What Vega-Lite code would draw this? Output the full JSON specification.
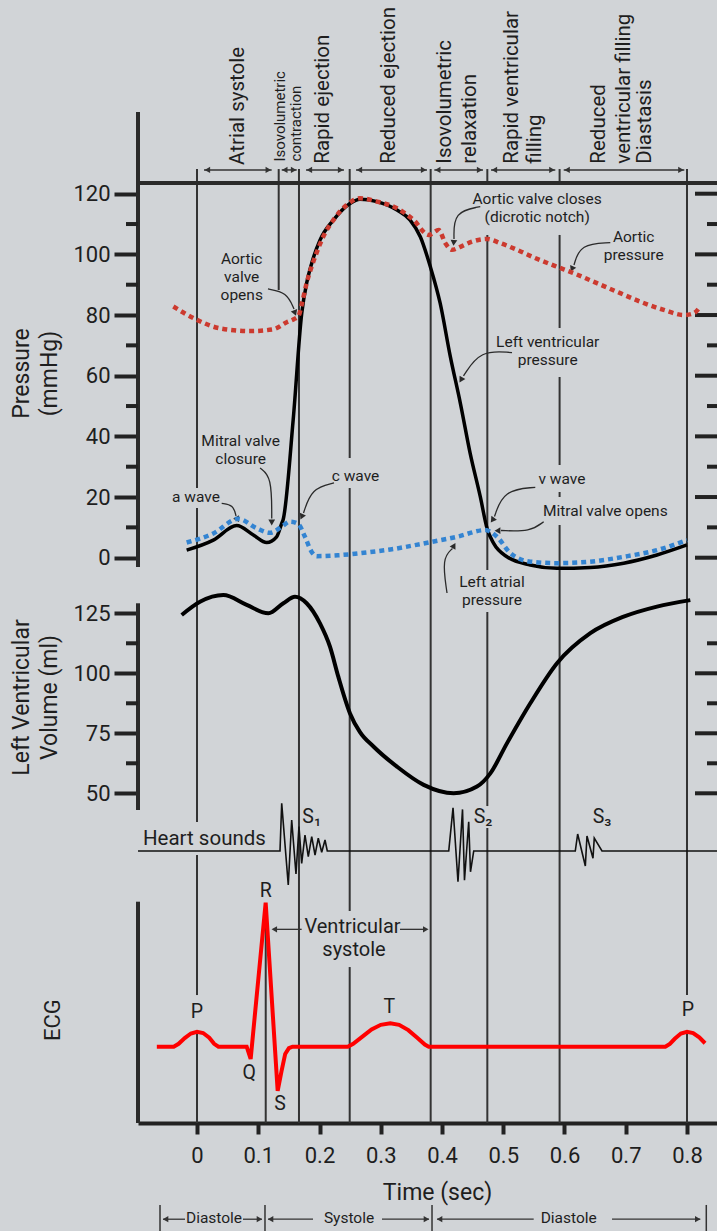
{
  "$schema": "https://vega.github.io/schema/vega-lite/v6.json",
  "width": 579,
  "height": 1123,
  "autosize": "none",
  "padding": {"left": 138, "top": 0, "right": 0, "bottom": 108},
  "background": "#d1d4d7",
  "config": {"view": {"stroke": null}, "font": "Roboto", "text": {"font": "Roboto", "color": "#1e1e1e"}},
  "datasets": {
    "aortic": [
      {"t": -0.0386, "p": 82.8}, {"t": 0, "p": 78.4}, {"t": 0.0376, "p": 75.6}, {"t": 0.0865, "p": 74.7},
      {"t": 0.1246, "p": 75.3}, {"t": 0.1464, "p": 77.6}, {"t": 0.158, "p": 78.6}, {"t": 0.166, "p": 79.8},
      {"t": 0.171, "p": 83.5}, {"t": 0.179, "p": 90.5}, {"t": 0.187, "p": 95.9}, {"t": 0.195, "p": 100.4},
      {"t": 0.206, "p": 105.8}, {"t": 0.2226, "p": 111.3}, {"t": 0.2444, "p": 116.3}, {"t": 0.266, "p": 118.5},
      {"t": 0.294, "p": 117.4}, {"t": 0.3265, "p": 115.2}, {"t": 0.3538, "p": 111.3}, {"t": 0.3782, "p": 106.4},
      {"t": 0.3946, "p": 108.0}, {"t": 0.4054, "p": 103.7}, {"t": 0.4163, "p": 101.5}, {"t": 0.43, "p": 102.5},
      {"t": 0.449, "p": 104.2}, {"t": 0.4735, "p": 105.1}, {"t": 0.4953, "p": 103.7}, {"t": 0.5224, "p": 101.5},
      {"t": 0.5497, "p": 99.0}, {"t": 0.5878, "p": 95.9}, {"t": 0.615, "p": 93.8}, {"t": 0.653, "p": 90.5},
      {"t": 0.6911, "p": 87.2}, {"t": 0.7238, "p": 84.4}, {"t": 0.762, "p": 81.7}, {"t": 0.7946, "p": 80.0},
      {"t": 0.811, "p": 80.6}, {"t": 0.8217, "p": 82.8}
    ],
    "lv": [
      {"t": -0.0169, "p": 2.5}, {"t": 0.0266, "p": 5.8}, {"t": 0.0648, "p": 10.6}, {"t": 0.092, "p": 7.5},
      {"t": 0.1138, "p": 5.0}, {"t": 0.13, "p": 6.9}, {"t": 0.1383, "p": 11.3}, {"t": 0.1407, "p": 12.6},
      {"t": 0.157, "p": 45.4}, {"t": 0.171, "p": 80.6}, {"t": 0.179, "p": 90.5}, {"t": 0.1873, "p": 97.1},
      {"t": 0.2008, "p": 104.7}, {"t": 0.2226, "p": 111.3}, {"t": 0.2498, "p": 116.8}, {"t": 0.2661, "p": 118.2},
      {"t": 0.2939, "p": 117.4}, {"t": 0.3265, "p": 114.6}, {"t": 0.348, "p": 111.3}, {"t": 0.3646, "p": 105.8},
      {"t": 0.381, "p": 95.9}, {"t": 0.397, "p": 83.9}, {"t": 0.4136, "p": 66.3}, {"t": 0.43, "p": 50.9},
      {"t": 0.446, "p": 34.4}, {"t": 0.4625, "p": 20.1}, {"t": 0.4735, "p": 9.7}, {"t": 0.4844, "p": 4.7},
      {"t": 0.5061, "p": 0.3}, {"t": 0.5442, "p": -2.4}, {"t": 0.5878, "p": -3.5}, {"t": 0.6422, "p": -3.2},
      {"t": 0.6966, "p": -1.8}, {"t": 0.751, "p": 0.9}, {"t": 0.8, "p": 4.2}
    ],
    "la": [
      {"t": -0.0169, "p": 5.0}, {"t": 0.0266, "p": 8.0}, {"t": 0.0674, "p": 12.8}, {"t": 0.0975, "p": 9.7},
      {"t": 0.119, "p": 8.2}, {"t": 0.1383, "p": 10.2}, {"t": 0.1518, "p": 11.9}, {"t": 0.1654, "p": 11.1},
      {"t": 0.1763, "p": 6.9}, {"t": 0.187, "p": 2.0}, {"t": 0.1955, "p": 0.5}, {"t": 0.23, "p": 0.8},
      {"t": 0.28, "p": 1.8}, {"t": 0.3156, "p": 2.7}, {"t": 0.37, "p": 4.7}, {"t": 0.4245, "p": 6.9},
      {"t": 0.4707, "p": 9.1}, {"t": 0.4898, "p": 6.9}, {"t": 0.5116, "p": 1.5}, {"t": 0.5442, "p": -1.3},
      {"t": 0.5878, "p": -1.8}, {"t": 0.6422, "p": -1.3}, {"t": 0.6966, "p": 0.3}, {"t": 0.751, "p": 2.5},
      {"t": 0.8, "p": 5.8}
    ],
    "vol": [
      {"t": -0.025, "v": 124.3}, {"t": 0.0049, "v": 129.8}, {"t": 0.043, "v": 132.6}, {"t": 0.0811, "v": 128.5},
      {"t": 0.1165, "v": 125.0}, {"t": 0.141, "v": 129.2}, {"t": 0.16, "v": 131.9}, {"t": 0.179, "v": 129.2},
      {"t": 0.2008, "v": 120.8}, {"t": 0.2171, "v": 111.1}, {"t": 0.2307, "v": 98.6}, {"t": 0.2498, "v": 83.3},
      {"t": 0.2661, "v": 75.5}, {"t": 0.2885, "v": 69.4}, {"t": 0.3265, "v": 61.1}, {"t": 0.3701, "v": 53.5},
      {"t": 0.419, "v": 50.0}, {"t": 0.4571, "v": 52.8}, {"t": 0.4789, "v": 58.3}, {"t": 0.506, "v": 70.8},
      {"t": 0.5442, "v": 87.5}, {"t": 0.5878, "v": 104.2}, {"t": 0.6422, "v": 116.7}, {"t": 0.6966, "v": 123.6},
      {"t": 0.751, "v": 127.8}, {"t": 0.8054, "v": 130.5}
    ],
    "hs": [
      {"t": -0.0963, "a": 0}, {"t": 0.1355, "a": 0}, {"t": 0.1383, "a": 1.19}, {"t": 0.149, "a": -0.85},
      {"t": 0.1546, "a": 0.775}, {"t": 0.1616, "a": -0.575}, {"t": 0.1665, "a": 0.61}, {"t": 0.1709, "a": -0.31},
      {"t": 0.1763, "a": 0.4}, {"t": 0.1817, "a": -0.14}, {"t": 0.1873, "a": 0.36}, {"t": 0.1927, "a": -0.1},
      {"t": 0.198, "a": 0.32}, {"t": 0.2036, "a": -0.03}, {"t": 0.209, "a": 0.275}, {"t": 0.2127, "a": 0},
      {"t": 0.411, "a": 0}, {"t": 0.418, "a": 1.08}, {"t": 0.4261, "a": -0.77}, {"t": 0.4335, "a": 1.04},
      {"t": 0.4367, "a": -0.73}, {"t": 0.4436, "a": 0.73}, {"t": 0.4465, "a": -0.52}, {"t": 0.4518, "a": 0},
      {"t": 0.6176, "a": 0}, {"t": 0.6215, "a": 0.425}, {"t": 0.634, "a": -0.375}, {"t": 0.6367, "a": 0.375},
      {"t": 0.6465, "a": -0.18}, {"t": 0.6486, "a": 0.32}, {"t": 0.6612, "a": 0}, {"t": 0.849, "a": 0}
    ],
    "ecg": [
      {"t": -0.0656, "e": 0}, {"t": -0.038, "e": 0}, {"t": -0.03, "e": 0.02}, {"t": -0.02, "e": 0.06},
      {"t": -0.01, "e": 0.092}, {"t": 0, "e": 0.104}, {"t": 0.01, "e": 0.095}, {"t": 0.02, "e": 0.062},
      {"t": 0.028, "e": 0.02}, {"t": 0.035, "e": 0}, {"t": 0.0811, "e": 0}, {"t": 0.0876, "e": -0.085},
      {"t": 0.1121, "e": 1.0}, {"t": 0.1317, "e": -0.306}, {"t": 0.138, "e": -0.17}, {"t": 0.144, "e": -0.05},
      {"t": 0.15, "e": -0.01}, {"t": 0.156, "e": 0}, {"t": 0.2462, "e": 0}, {"t": 0.255, "e": 0.02},
      {"t": 0.27, "e": 0.07}, {"t": 0.285, "e": 0.12}, {"t": 0.3, "e": 0.152}, {"t": 0.3156, "e": 0.1625},
      {"t": 0.33, "e": 0.152}, {"t": 0.345, "e": 0.115}, {"t": 0.36, "e": 0.06}, {"t": 0.372, "e": 0.015},
      {"t": 0.3783, "e": 0}, {"t": 0.7646, "e": 0}, {"t": 0.772, "e": 0.02}, {"t": 0.78, "e": 0.055},
      {"t": 0.79, "e": 0.092}, {"t": 0.8, "e": 0.104}, {"t": 0.81, "e": 0.095}, {"t": 0.82, "e": 0.065},
      {"t": 0.8295, "e": 0.024}
    ],
    "vlines": [
      {"t": 0, "p": 128.12, "p2": 22.98}, {"t": 0, "p": 16.39, "p2": -87.14}, {"t": 0, "p": -98.02, "p2": -144.18}, {"t": 0, "p": -155.72, "p2": -186.38},
      {"t": 0.1334, "p": 128.12, "p2": 88.26},
      {"t": 0.1665, "p": 128.12, "p2": -186.38},
      {"t": 0.2493, "p": 128.12, "p2": 32.87}, {"t": 0.2493, "p": 22.98, "p2": -116.49}, {"t": 0.2493, "p": -134.95, "p2": -186.38},
      {"t": 0.3815, "p": 128.12, "p2": -186.38},
      {"t": 0.474, "p": 128.12, "p2": 123.54}, {"t": 0.474, "p": 106.4, "p2": -4.06}, {"t": 0.474, "p": -17.9, "p2": -81.87}, {"t": 0.474, "p": -89.12, "p2": -186.38},
      {"t": 0.592, "p": 128.12, "p2": 123.54}, {"t": 0.592, "p": 106.4, "p2": 75.73}, {"t": 0.592, "p": 59.58, "p2": 30.56}, {"t": 0.592, "p": 21.66, "p2": 20.01}, {"t": 0.592, "p": 10.78, "p2": -186.38},
      {"t": 0.8, "p": 128.12, "p2": -144.18}, {"t": 0.8, "p": -155.72, "p2": -186.38},
      {"t": 0.1122, "p": -114.57, "p2": -186.38}
    ],
    "ptop": [{"t": -0.096327, "t2": 0.84898, "p": 123.54}],
    "pframe": [{"t": -0.096327, "p": 146.95, "p2": -3.07}],
    "pticks": [
      {"t": -0.11592, "t2": -0.096327, "p": 10}, {"t": -0.11592, "t2": -0.096327, "p": 30}, {"t": -0.11592, "t2": -0.096327, "p": 50},
      {"t": -0.11592, "t2": -0.096327, "p": 70}, {"t": -0.11592, "t2": -0.096327, "p": 90}, {"t": -0.11592, "t2": -0.096327, "p": 110},
      {"t": 0.81306, "t2": 0.84898, "p": 0}, {"t": 0.81306, "t2": 0.84898, "p": 20}, {"t": 0.81306, "t2": 0.84898, "p": 40},
      {"t": 0.81306, "t2": 0.84898, "p": 60}, {"t": 0.81306, "t2": 0.84898, "p": 80}, {"t": 0.81306, "t2": 0.84898, "p": 100},
      {"t": 0.81306, "t2": 0.84898, "p": 120},
      {"t": 0.83265, "t2": 0.84898, "p": 10}, {"t": 0.83265, "t2": 0.84898, "p": 30}, {"t": 0.83265, "t2": 0.84898, "p": 50},
      {"t": 0.83265, "t2": 0.84898, "p": 70}, {"t": 0.83265, "t2": 0.84898, "p": 90}, {"t": 0.83265, "t2": 0.84898, "p": 110}
    ],
    "phaseShafts": [
      {"t": 0.01143, "t2": 0.12196, "p": 127.83}, {"t": 0.13829, "t2": 0.16278, "p": 127.83}, {"t": 0.17796, "t2": 0.24, "p": 127.83},
      {"t": 0.25959, "t2": 0.37551, "p": 127.83}, {"t": 0.38743, "t2": 0.46694, "p": 127.83}, {"t": 0.48, "t2": 0.585, "p": 127.83},
      {"t": 0.5987, "t2": 0.7956, "p": 127.83}
    ],
    "phaseHeads": [
      {"t": 0.01693, "p": 127.83, "shape": "triangle-left"}, {"t": 0.11646, "p": 127.83, "shape": "triangle-right"},
      {"t": 0.14329, "p": 127.83, "shape": "triangle-left"}, {"t": 0.15778, "p": 127.83, "shape": "triangle-right"},
      {"t": 0.18346, "p": 127.83, "shape": "triangle-left"}, {"t": 0.2345, "p": 127.83, "shape": "triangle-right"},
      {"t": 0.26509, "p": 127.83, "shape": "triangle-left"}, {"t": 0.37001, "p": 127.83, "shape": "triangle-right"},
      {"t": 0.39293, "p": 127.83, "shape": "triangle-left"}, {"t": 0.46144, "p": 127.83, "shape": "triangle-right"},
      {"t": 0.4855, "p": 127.83, "shape": "triangle-left"}, {"t": 0.5795, "p": 127.83, "shape": "triangle-right"},
      {"t": 0.6042, "p": 127.83, "shape": "triangle-left"}, {"t": 0.7901, "p": 127.83, "shape": "triangle-right"}
    ],
    "phaseLabels": [
      {"t": 0.0674, "p": 129.5, "label": "Atrial systole"},
      {"t": 0.2057, "p": 129.9, "label": "Rapid ejection"},
      {"t": 0.313, "p": 129.9, "label": "Reduced ejection"},
      {"t": 0.4054, "p": 129.9, "label": "Isovolumetric"},
      {"t": 0.4462, "p": 129.9, "label": "relaxation"},
      {"t": 0.5143, "p": 129.9, "label": "Rapid ventricular"},
      {"t": 0.5518, "p": 129.9, "label": "filling"},
      {"t": 0.6558, "p": 129.9, "label": "Reduced"},
      {"t": 0.6967, "p": 129.9, "label": "ventricular filling"},
      {"t": 0.7319, "p": 129.9, "label": "Diastasis"}
    ],
    "phaseSmall": [
      {"t": 0.1355, "p": 130.6, "label": "Isovolumetric"},
      {"t": 0.1611, "p": 130.6, "label": "contraction"}
    ],
    "arrows": [
      {"id": "a1", "k": 0, "t": 0.1159, "p": 88.59}, {"id": "a1", "k": 1, "t": 0.1464, "p": 87.5}, {"id": "a1", "k": 2, "t": 0.1584, "p": 82.0},
      {"id": "a2", "k": 0, "t": 0.1029, "p": 29.57}, {"id": "a2", "k": 1, "t": 0.122, "p": 26.7}, {"id": "a2", "k": 2, "t": 0.122, "p": 12.9},
      {"id": "a3", "k": 0, "t": 0.0403, "p": 17.94}, {"id": "a3", "k": 1, "t": 0.0593, "p": 17.38}, {"id": "a3", "k": 2, "t": 0.0637, "p": 13.75},
      {"id": "a4", "k": 0, "t": 0.2237, "p": 24.63}, {"id": "a4", "k": 1, "t": 0.1873, "p": 22.88}, {"id": "a4", "k": 2, "t": 0.1739, "p": 14.74},
      {"id": "a5", "k": 0, "t": 0.4625, "p": 115.73}, {"id": "a5", "k": 1, "t": 0.4191, "p": 114.08}, {"id": "a5", "k": 2, "t": 0.4196, "p": 105.08},
      {"id": "a6", "k": 0, "t": 0.6748, "p": 103.86}, {"id": "a6", "k": 1, "t": 0.6258, "p": 103.43}, {"id": "a6", "k": 2, "t": 0.6155, "p": 96.5},
      {"id": "a7", "k": 0, "t": 0.5143, "p": 67.59}, {"id": "a7", "k": 1, "t": 0.4625, "p": 68.48}, {"id": "a7", "k": 2, "t": 0.4351, "p": 59.91},
      {"id": "a8", "k": 0, "t": 0.5523, "p": 23.21}, {"id": "a8", "k": 1, "t": 0.5007, "p": 22.32}, {"id": "a8", "k": 2, "t": 0.4857, "p": 13.58},
      {"id": "a9", "k": 0, "t": 0.566, "p": 11.87}, {"id": "a9", "k": 1, "t": 0.5442, "p": 8.57}, {"id": "a9", "k": 2, "t": 0.4963, "p": 8.97},
      {"id": "a10", "k": 0, "t": 0.4082, "p": -11.64}, {"id": "a10", "k": 1, "t": 0.4, "p": -0.2}, {"id": "a10", "k": 2, "t": 0.4171, "p": 3.03}
    ],
    "arrowHeads": [
      {"t": 0.16, "p": 80.68, "ang": 160}, {"t": 0.122, "p": 11.6, "ang": 180}, {"t": 0.0661, "p": 12.6, "ang": 150},
      {"t": 0.1709, "p": 13.5, "ang": 205}, {"t": 0.4191, "p": 103.8, "ang": 185}, {"t": 0.6122, "p": 95.2, "ang": 205},
      {"t": 0.431, "p": 58.6, "ang": 210}, {"t": 0.4824, "p": 12.4, "ang": 215}, {"t": 0.4906, "p": 8.9, "ang": 270},
      {"t": 0.4196, "p": 4.0, "ang": 30}
    ],
    "notes": [
      {"t": 0.073, "p": 98.38, "label": "Aortic"},
      {"t": 0.073, "p": 92.45, "label": "valve"},
      {"t": 0.073, "p": 86.52, "label": "opens"},
      {"t": 0.0713, "p": 38.58, "label": "Mitral valve"},
      {"t": 0.0713, "p": 32.64, "label": "closure"},
      {"t": -0.0016, "p": 19.91, "label": "a wave"},
      {"t": 0.2588, "p": 26.94, "label": "c wave"},
      {"t": 0.5554, "p": 118.27, "label": "Aortic valve closes"},
      {"t": 0.5554, "p": 112.43, "label": "(dicrotic notch)"},
      {"t": 0.713, "p": 105.84, "label": "Aortic"},
      {"t": 0.713, "p": 99.8, "label": "pressure"},
      {"t": 0.5726, "p": 71.22, "label": "Left ventricular"},
      {"t": 0.5726, "p": 65.18, "label": "pressure"},
      {"t": 0.5959, "p": 25.95, "label": "v wave"},
      {"t": 0.6666, "p": 15.5, "label": "Mitral valve opens"},
      {"t": 0.4816, "p": -7.91, "label": "Left atrial"},
      {"t": 0.4816, "p": -13.95, "label": "pressure"}
    ],
    "vframe": [{"t": -0.096327, "v": 129.17, "v2": 43.04}],
    "vticks": [
      {"t": -0.11592, "t2": -0.096327, "v": 62.5}, {"t": -0.11592, "t2": -0.096327, "v": 87.5}, {"t": -0.11592, "t2": -0.096327, "v": 112.5},
      {"t": 0.81306, "t2": 0.84898, "v": 50}, {"t": 0.81306, "t2": 0.84898, "v": 75}, {"t": 0.81306, "t2": 0.84898, "v": 100}, {"t": 0.81306, "t2": 0.84898, "v": 125},
      {"t": 0.83265, "t2": 0.84898, "v": 62.5}, {"t": 0.83265, "t2": 0.84898, "v": 87.5}, {"t": 0.83265, "t2": 0.84898, "v": 112.5}
    ],
    "hsLabel": [{"t": -0.0882, "a": 0.3, "label": "Heart sounds"}],
    "sLabels": [
      {"t": 0.1873, "a": 0.84, "label": "S₁"}, {"t": 0.467, "a": 0.84, "label": "S₂"}, {"t": 0.6612, "a": 0.84, "label": "S₃"}
    ],
    "eframe": [{"t": -0.096327, "e": 1.007, "e2": -0.53}],
    "ecgLabels": [
      {"t": 0, "e": 0.243, "label": "P"}, {"t": 0.0854, "e": -0.18, "label": "Q"}, {"t": 0.1122, "e": 1.083, "label": "R"},
      {"t": 0.1355, "e": -0.398, "label": "S"}, {"t": 0.314, "e": 0.278, "label": "T"}, {"t": 0.8016, "e": 0.255, "label": "P"}
    ],
    "vsLabel": [
      {"t": 0.2539, "e": 0.833, "label": "Ventricular"},
      {"t": 0.2563, "e": 0.672, "label": "systole"}
    ],
    "eShafts": [
      {"t": 0.1273, "t2": 0.1709, "e": 0.815}, {"t": 0.3314, "t2": 0.3722, "e": 0.815},
      {"t": -0.0555, "t2": -0.0196, "e": -1.198}, {"t": 0.0751, "t2": 0.1061, "e": -1.198},
      {"t": 0.1159, "t2": 0.1894, "e": -1.198}, {"t": 0.302, "t2": 0.3788, "e": -1.198},
      {"t": 0.3918, "t2": 0.5497, "e": -1.198}, {"t": 0.6776, "t2": 0.8217, "e": -1.198}
    ],
    "eHeads": [
      {"t": 0.1262, "e": 0.815, "shape": "triangle-left"}, {"t": 0.3735, "e": 0.815, "shape": "triangle-right"},
      {"t": -0.0513, "e": -1.198, "shape": "triangle-left"}, {"t": 0.1019, "e": -1.198, "shape": "triangle-right"},
      {"t": 0.1201, "e": -1.198, "shape": "triangle-left"}, {"t": 0.3746, "e": -1.198, "shape": "triangle-right"},
      {"t": 0.396, "e": -1.198, "shape": "triangle-left"}, {"t": 0.8175, "e": -1.198, "shape": "triangle-right"}
    ],
    "eBars": [
      {"t": -0.0604, "e": -1.099, "e2": -1.28}, {"t": 0.111, "e": -1.099, "e2": -1.28},
      {"t": 0.3837, "e": -1.099, "e2": -1.28}, {"t": 0.8315, "e": -1.099, "e2": -1.28}
    ],
    "eBottom": [
      {"t": 0.0278, "e": -1.192, "label": "Diastole"}, {"t": 0.2482, "e": -1.192, "label": "Systole"}, {"t": 0.6069, "e": -1.192, "label": "Diastole"}
    ],
    "ecgTitle": [{"t": -0.2359, "e": 0.185, "label": "ECG"}]
  },
  "encoding": {
    "x": {
      "field": "t", "type": "quantitative",
      "scale": {"domain": [-0.096327, 0.84898], "nice": false, "zero": false},
      "axis": {
        "values": [0, 0.1, 0.2, 0.3, 0.4, 0.5, 0.6, 0.7, 0.8], "format": ".1~f", "grid": false,
        "title": "Time (sec)", "titleFont": "Roboto", "titleFontSize": 23, "titleFontWeight": "normal", "titleColor": "#1e1e1e",
        "titleX": 299, "titleY": 69, "titleAlign": "center", "titleBaseline": "middle",
        "labelFont": "Roboto", "labelFontSize": 22, "labelColor": "#1e1e1e", "labelBaseline": "middle", "labelPadding": 21,
        "tickSize": 11, "tickWidth": 4, "tickColor": "#222222", "domainColor": "#222222", "domainWidth": 4
      }
    }
  },
  "layer": [
    {
      "encoding": {
        "y": {
          "field": "p", "type": "quantitative",
          "scale": {"domain": [0, 120], "range": [557.7, 193.7], "nice": false, "zero": false},
          "axis": {
            "orient": "left", "values": [0, 20, 40, 60, 80, 100, 120], "domain": false, "grid": false,
            "tickSize": 24, "tickWidth": 4, "tickColor": "#222222",
            "labelFont": "Roboto", "labelFontSize": 22, "labelColor": "#1e1e1e", "labelPadding": 4,
            "title": ["Pressure", "(mmHg)"], "titleFont": "Roboto", "titleFontSize": 23, "titleFontWeight": "normal", "titleColor": "#1e1e1e",
            "titleAngle": 270, "titleX": -117, "titleY": 373, "titleAlign": "center", "titleBaseline": "middle", "titleLineHeight": 28
          }
        }
      },
      "layer": [
        {"data": {"name": "vlines"}, "mark": {"type": "rule", "color": "#333333", "strokeWidth": 2}, "encoding": {"y2": {"field": "p2"}}},
        {"data": {"name": "ptop"}, "mark": {"type": "rule", "color": "#2a2a2a", "strokeWidth": 4}, "encoding": {"x2": {"field": "t2"}}},
        {"data": {"name": "pframe"}, "mark": {"type": "rule", "color": "#2a2a2a", "strokeWidth": 4}, "encoding": {"y2": {"field": "p2"}}},
        {"data": {"name": "pticks"}, "mark": {"type": "rule", "color": "#222222", "strokeWidth": 4}, "encoding": {"x2": {"field": "t2"}}},
        {"data": {"name": "phaseShafts"}, "mark": {"type": "rule", "color": "#333333", "strokeWidth": 1.5}, "encoding": {"x2": {"field": "t2"}}},
        {"data": {"name": "phaseHeads"}, "mark": {"type": "point", "filled": true, "color": "#333333", "size": 40, "opacity": 1},
          "encoding": {"shape": {"field": "shape", "type": "nominal", "scale": null}}},
        {"data": {"name": "arrows"}, "mark": {"type": "line", "color": "#2a2a2a", "strokeWidth": 1.3, "interpolate": "basis"},
          "encoding": {"detail": {"field": "id"}, "order": {"field": "k", "type": "quantitative"}}},
        {"data": {"name": "arrowHeads"}, "mark": {"type": "point", "filled": true, "color": "#2a2a2a", "size": 45, "shape": "triangle-up", "opacity": 1},
          "encoding": {"angle": {"field": "ang", "type": "quantitative", "scale": null}}},
        {"data": {"name": "phaseLabels"}, "mark": {"type": "text", "angle": 270, "align": "left", "baseline": "middle", "fontSize": 20.5, "color": "#1e1e1e"},
          "encoding": {"text": {"field": "label"}}},
        {"data": {"name": "phaseSmall"}, "mark": {"type": "text", "angle": 270, "align": "left", "baseline": "middle", "fontSize": 15, "color": "#1e1e1e"},
          "encoding": {"text": {"field": "label"}}},
        {"data": {"name": "notes"}, "mark": {"type": "text", "align": "center", "baseline": "middle", "fontSize": 15.5, "color": "#1e1e1e"},
          "encoding": {"text": {"field": "label"}}},
        {"data": {"name": "lv"}, "mark": {"type": "line", "color": "#000000", "strokeWidth": 3.5, "interpolate": "monotone"}},
        {"data": {"name": "aortic"}, "mark": {"type": "line", "color": "#cc3a2f", "strokeWidth": 4.5, "strokeDash": [5, 4], "interpolate": "monotone"}},
        {"data": {"name": "la"}, "mark": {"type": "line", "color": "#3384d2", "strokeWidth": 4.5, "strokeDash": [5, 4], "interpolate": "monotone"}}
      ]
    },
    {
      "encoding": {
        "y": {
          "field": "v", "type": "quantitative",
          "scale": {"domain": [50, 125], "range": [793.3, 613.3], "nice": false, "zero": false},
          "axis": {
            "orient": "left", "values": [50, 75, 100, 125], "domain": false, "grid": false,
            "tickSize": 24, "tickWidth": 4, "tickColor": "#222222",
            "labelFont": "Roboto", "labelFontSize": 22, "labelColor": "#1e1e1e", "labelPadding": 4,
            "title": ["Left Ventricular", "Volume (ml)"], "titleFont": "Roboto", "titleFontSize": 23, "titleFontWeight": "normal", "titleColor": "#1e1e1e",
            "titleAngle": 270, "titleX": -117, "titleY": 697, "titleAlign": "center", "titleBaseline": "middle", "titleLineHeight": 28
          }
        }
      },
      "layer": [
        {"data": {"name": "vframe"}, "mark": {"type": "rule", "color": "#2a2a2a", "strokeWidth": 4}, "encoding": {"y2": {"field": "v2"}}},
        {"data": {"name": "vticks"}, "mark": {"type": "rule", "color": "#222222", "strokeWidth": 4}, "encoding": {"x2": {"field": "t2"}}},
        {"data": {"name": "vol"}, "mark": {"type": "line", "color": "#000000", "strokeWidth": 4, "interpolate": "monotone"}}
      ]
    },
    {
      "encoding": {
        "y": {"field": "a", "type": "quantitative", "scale": {"domain": [0, 1], "range": [851, 811], "nice": false, "zero": false}, "axis": null}
      },
      "layer": [
        {"data": {"name": "hs"}, "mark": {"type": "line", "color": "#111111", "strokeWidth": 1.6}},
        {"data": {"name": "hsLabel"}, "mark": {"type": "text", "align": "left", "baseline": "middle", "fontSize": 20.5, "color": "#1e1e1e"}, "encoding": {"text": {"field": "label"}}},
        {"data": {"name": "sLabels"}, "mark": {"type": "text", "align": "center", "baseline": "middle", "fontSize": 19.5, "color": "#1e1e1e"}, "encoding": {"text": {"field": "label"}}}
      ]
    },
    {
      "encoding": {
        "y": {"field": "e", "type": "quantitative", "scale": {"domain": [0, 1], "range": [1046.7, 902.7], "nice": false, "zero": false}, "axis": null}
      },
      "layer": [
        {"data": {"name": "eframe"}, "mark": {"type": "rule", "color": "#2a2a2a", "strokeWidth": 4}, "encoding": {"y2": {"field": "e2"}}},
        {"data": {"name": "eBars"}, "mark": {"type": "rule", "color": "#333333", "strokeWidth": 1.5}, "encoding": {"y2": {"field": "e2"}}},
        {"data": {"name": "eShafts"}, "mark": {"type": "rule", "color": "#333333", "strokeWidth": 1.3}, "encoding": {"x2": {"field": "t2"}}},
        {"data": {"name": "eHeads"}, "mark": {"type": "point", "filled": true, "color": "#333333", "size": 40, "opacity": 1},
          "encoding": {"shape": {"field": "shape", "type": "nominal", "scale": null}}},
        {"data": {"name": "ecg"}, "mark": {"type": "line", "color": "#ff0000", "strokeWidth": 4}},
        {"data": {"name": "ecgLabels"}, "mark": {"type": "text", "align": "center", "baseline": "middle", "fontSize": 19.5, "color": "#1e1e1e"}, "encoding": {"text": {"field": "label"}}},
        {"data": {"name": "vsLabel"}, "mark": {"type": "text", "align": "center", "baseline": "middle", "fontSize": 20, "color": "#1e1e1e"}, "encoding": {"text": {"field": "label"}}},
        {"data": {"name": "eBottom"}, "mark": {"type": "text", "align": "center", "baseline": "middle", "fontSize": 15.5, "color": "#1e1e1e"}, "encoding": {"text": {"field": "label"}}},
        {"data": {"name": "ecgTitle"}, "mark": {"type": "text", "align": "center", "baseline": "middle", "angle": 270, "fontSize": 22, "color": "#1e1e1e"}, "encoding": {"text": {"field": "label"}}}
      ]
    }
  ],
  "resolve": {"scale": {"y": "independent"}, "axis": {"y": "independent"}}
}
